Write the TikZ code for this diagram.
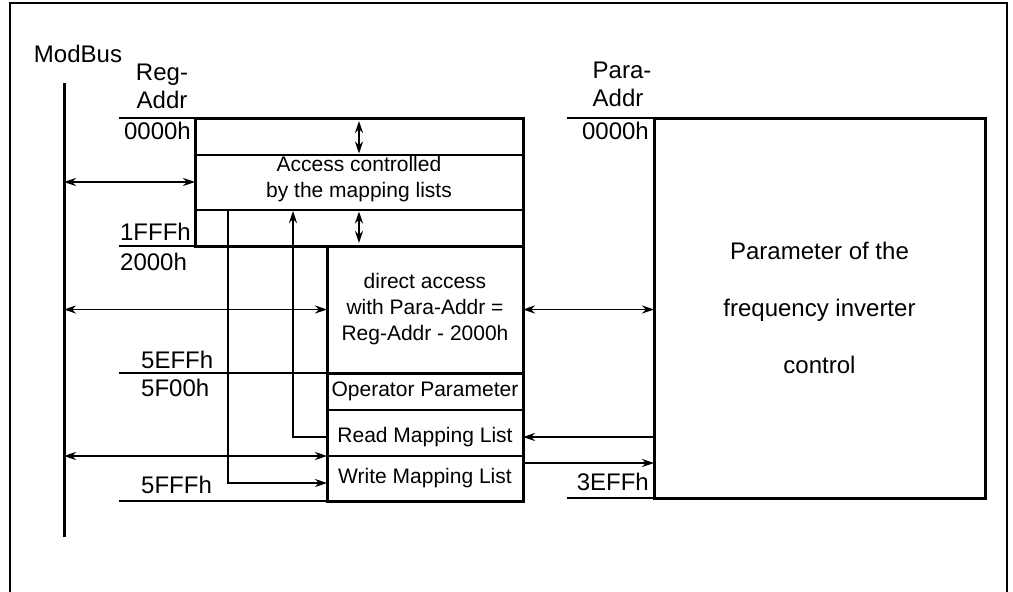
\documentclass[tikz,border=0pt]{standalone}
\usepackage{fontspec}
\setmainfont{Liberation Sans}
\usetikzlibrary{arrows.meta}
\newcommand\boxfont{\fontsize{21}{26}\selectfont}
\newcommand\labfont{\fontsize{24}{28}\selectfont}
\tikzset{
  membox/.style = {draw, line width=3pt, inner sep=0pt, outer sep=0pt,
    align=center, font=\boxfont},% thick memory block
  slot/.style = {draw, line width=1.3pt, inner sep=0pt, outer sep=0pt,
    align=center, font=\boxfont},% thin list slot
  addr/.style = {inner sep=0pt, font=\labfont},% address label
  wire/.style = {line width=1.3pt},
  link/.style = {wire, <->},
  updown/.style = {line width=2pt, <->}
}

\begin{document}
\begin{tikzpicture}[x=1pt,y=-1pt,>={Stealth[length=12pt,width=8pt]}]
    \useasboundingbox (0,0) rectangle (1013,592);
    \draw[line width=1.4pt] (10,592) -- (10,3) -- (1007,3) -- (1007,592);

    % ModBus
    \coordinate (bustop) at (64,83);
    \coordinate (busbot) at (64,537);
    \draw[line width=3pt] (bustop) -- (busbot);
    \node[addr] (modbus) at (78,54) {ModBus};
    \node[addr, align=center] (regaddr) at (162,86) {Reg-\\Addr};
    \node[addr, align=left] (paraaddr) at (622,84) {Para-\\Addr};

    % register blocks
    \node[membox, minimum width=328pt, minimum height=128pt] (mapped) at (359,182) {};
    \coordinate (upper) at (195,155);
    \coordinate (lower) at (195,210);
    \draw[wire] (upper) -- (upper -| mapped.east);
    \draw[wire] (lower) -- (lower -| mapped.east);
    \node[font=\boxfont, align=center, inner sep=0pt] (acctext) at (359,179)
        {Access controlled\\by the mapping lists};
    \draw[updown] ([yshift=-3pt]mapped.north) -- ([yshift=1.5pt]upper -| mapped.north);
    \draw[updown] ([yshift=-1.5pt]lower -| mapped.south) -- ([yshift=3pt]mapped.south);

    \node[membox, minimum width=196pt, minimum height=127pt] (direct) at (425,309.5)
        {direct access\\with Para-Addr =\\Reg-Addr - 2000h};
    \node[slot, minimum width=196pt, minimum height=37pt] (oper) at (425,391.5) {Operator Parameter};
    \node[slot, minimum width=196pt, minimum height=46pt, text depth=0pt] (readlist) at (425,433)
        {\raisebox{-4pt}{Read Mapping List}};
    \node[slot, minimum width=196pt, minimum height=45pt] (writelist) at (425,478.5) {Write Mapping List};
    \draw[line width=3pt] (oper.north west) rectangle (writelist.south east);

    \node[membox, minimum width=331pt, minimum height=380pt,
        font=\fontsize{24}{57}\selectfont] (param) at (819.5,308)
        {Parameter of the\\frequency inverter\\control};

    % address marks
    \coordinate (t0) at (119,118);
    \coordinate (t1) at (119,246);
    \coordinate (t2) at (119,373);
    \coordinate (t3) at (119,501);
    \coordinate (t4) at (567,118);
    \coordinate (t5) at (567,498);
    \draw[wire] (t0) -- (t0 -| mapped.west);
    \draw[wire] (t1) -- (t1 -| mapped.west);
    \draw[wire] (t2) -- (t2 -| oper.west);
    \draw[wire] (t3) -- (t3 -| writelist.west);
    \draw[wire] (t4) -- (t4 -| param.west);
    \draw[wire] (t5) -- (t5 -| param.west);

    \node[addr, anchor=east] (a0) at (191,131) {0000h};
    \node[addr, anchor=east] (a1) at (191,232) {1FFFh};
    \node[addr, anchor=west] (a2) at (120,262) {2000h};
    \node[addr, anchor=west] (a3) at (141,360) {5EFFh};
    \node[addr, anchor=west] (a4) at (141,388) {5F00h};
    \node[addr, anchor=west] (a5) at (141,485) {5FFFh};
    \node[addr, anchor=east] (p0) at (649,131) {0000h};
    \node[addr, anchor=east] (p1) at (649,482) {3EFFh};

    % access paths
    \draw[link] (bustop |- mapped.west) -- (mapped.west);
    \draw[link] (bustop |- direct.west) -- (direct.west);
    \draw[link] (direct.east) -- (direct.east -| param.west);
    \draw[link] (bustop |- readlist.south west) -- (readlist.south west);
    \coordinate (rin) at ([yshift=-4pt]readlist.east);
    \coordinate (rout) at ([yshift=-4pt]readlist.west);
    \draw[wire, ->] (rin -| param.west) -- (rin);
    \coordinate (readup) at (293,211);
    \draw[wire, ->] (rout) -| (readup);
    \coordinate (writedown) at (228,210);
    \coordinate (win) at ([yshift=-4.5pt]writelist.west);
    \draw[wire, ->] (writedown) |- (win);
    \coordinate (wout) at ([yshift=-7pt]writelist.north east);
    \draw[wire, ->] (wout) -- (wout -| param.west);
\end{tikzpicture}
\end{document}
